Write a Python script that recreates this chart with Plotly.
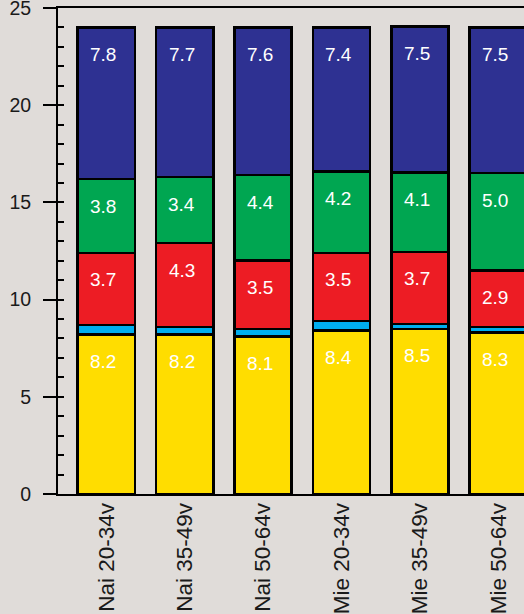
import plotly.graph_objects as go

categories = ["Nai 20-34v", "Nai 35-49v", "Nai 50-64v", "Mie 20-34v", "Mie 35-49v", "Mie 50-64v"]
yellow = [8.2, 8.2, 8.1, 8.4, 8.5, 8.3]
lightblue = [0.5, 0.4, 0.4, 0.5, 0.25, 0.3]
red = [3.7, 4.3, 3.5, 3.5, 3.7, 2.9]
green = [3.8, 3.4, 4.4, 4.2, 4.1, 5.0]
darkblue = [7.8, 7.7, 7.6, 7.4, 7.5, 7.5]

series = [
    ("yellow", yellow, "#FFDD00", True),
    ("lightblue", lightblue, "#00AEEF", False),
    ("red", red, "#ED1C24", True),
    ("green", green, "#00A651", True),
    ("darkblue", darkblue, "#2E3192", True),
]

BG = "#E0DCD9"
FONT = "Liberation Sans, Arial, Helvetica, sans-serif"

fig = go.Figure()
annotations = []
base = [0.0] * len(categories)
for name, vals, color, labelled in series:
    fig.add_trace(go.Bar(
        x=categories, y=vals, name=name,
        marker=dict(color=color, line=dict(color="black", width=2.5)),
        width=0.73, hoverinfo="skip",
    ))
    for i, v in enumerate(vals):
        top = base[i] + v
        if labelled:
            annotations.append(dict(
                x=categories[i], y=top, xref="x", yref="y",
                text=f"{v:.1f}", showarrow=False,
                yshift=-27, xshift=-3,
                font=dict(family=FONT, size=19, color="white"),
            ))
        base[i] = top

# invisible trace for the inner tick axis
fig.add_trace(go.Scatter(x=[categories[0]], y=[0], yaxis="y2", mode="markers",
                         marker=dict(opacity=0), showlegend=False, hoverinfo="skip"))

fig.update_layout(
    width=524, height=614,
    margin=dict(l=58, r=0, t=8, b=120, autoexpand=False),
    paper_bgcolor=BG, plot_bgcolor=BG,
    barmode="stack", bargap=0.27,
    showlegend=False,
    annotations=annotations,
    font=dict(family=FONT, color="#1a1a1a"),
    xaxis=dict(
        range=[-0.616, 5.328], automargin=False,
        showline=True, linecolor="black", linewidth=2, mirror=True,
        showgrid=False, ticks="", tickangle=-90,
        tickfont=dict(family=FONT, size=22.5, color="#1a1a1a"),
        ticklabelstandoff=-2, ticklabeloverflow="allow",
        zeroline=False,
    ),
    yaxis=dict(
        range=[0, 25], dtick=5, tick0=0, automargin=False,
        showline=True, linecolor="black", linewidth=2,
        showgrid=False, zeroline=False,
        ticks="outside", ticklen=13, tickwidth=2, tickcolor="black",
        tickfont=dict(family=FONT, size=19.5, color="#1a1a1a"),
        ticklabelstandoff=8, ticklabeloverflow="allow",
    ),
    yaxis2=dict(
        range=[0, 25], dtick=1, tick0=0, overlaying="y", side="left",
        automargin=False,
        showline=False, showgrid=False, zeroline=False,
        ticks="inside", ticklen=6, tickwidth=1.5, tickcolor="black",
        showticklabels=False,
    ),
)

fig.write_html(
    "out.html",
    config={"displayModeBar": False},
    post_script="document.body.style.margin='0';document.body.style.background='" + BG + "';",
)
